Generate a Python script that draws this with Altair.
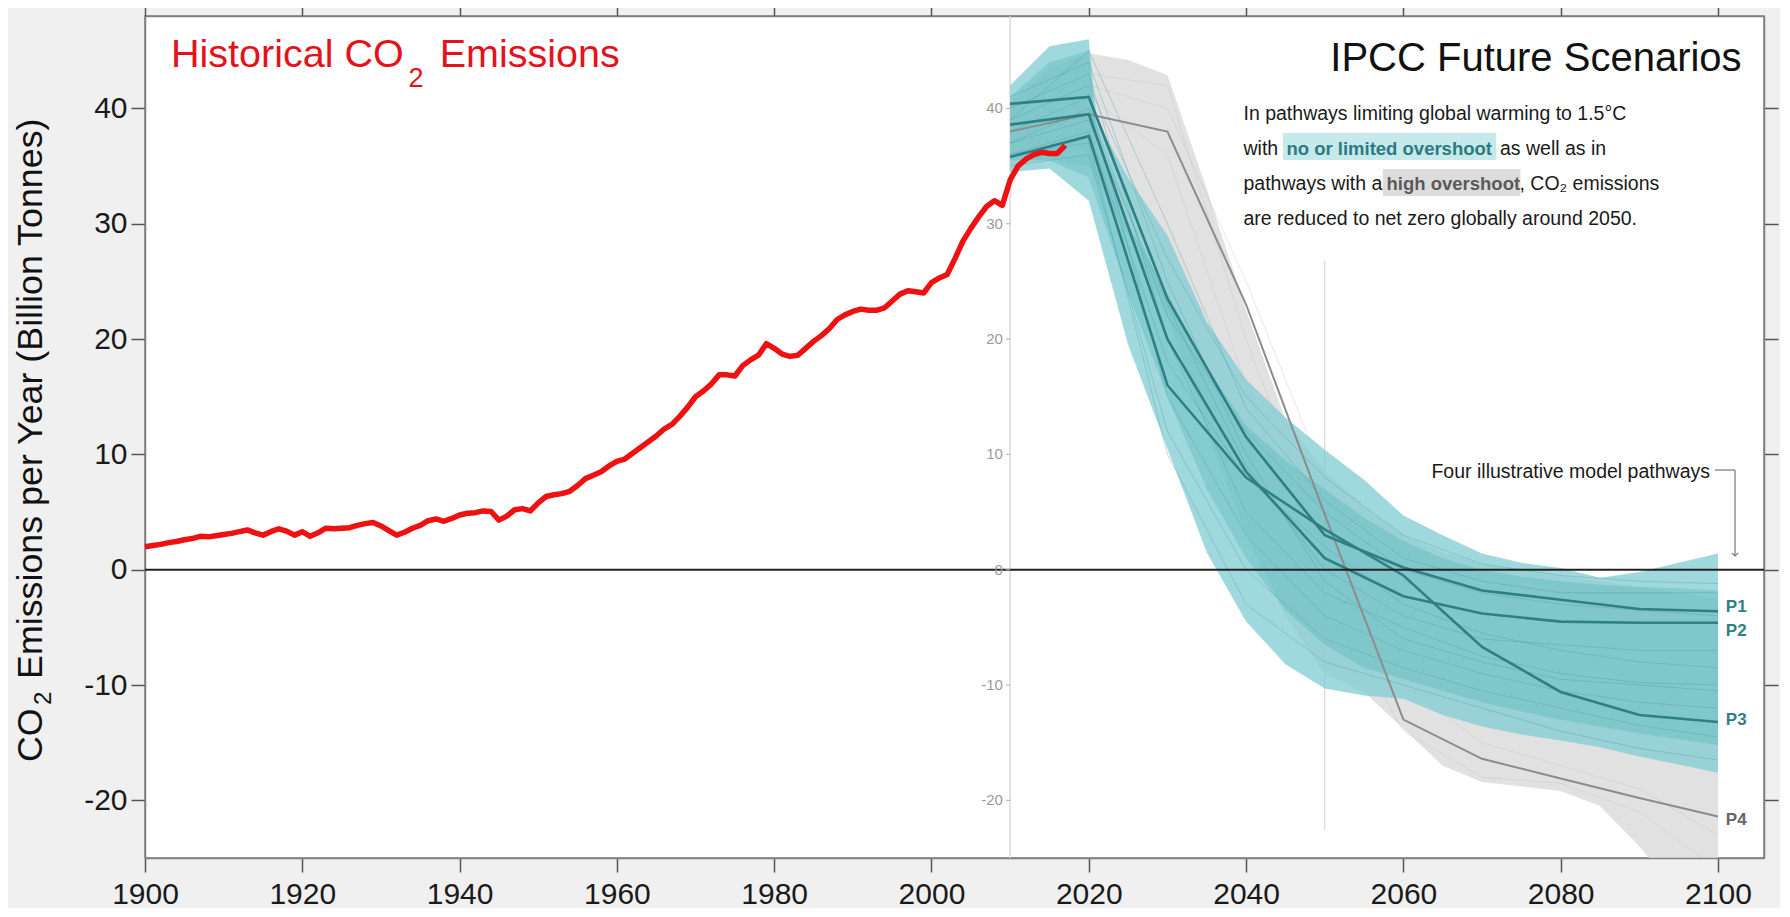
import altair as alt
import pandas as pd

# ---------------- data ----------------
hist_years = list(range(1900, 2018))
hist_values = [
    2.0, 2.1, 2.2, 2.35, 2.45, 2.6, 2.7, 2.9, 2.85, 2.95,
    3.05, 3.15, 3.3, 3.45, 3.2, 3.0, 3.3, 3.55, 3.35, 3.0,
    3.3, 2.9, 3.2, 3.6, 3.55, 3.6, 3.65, 3.85, 4.0, 4.1,
    3.8, 3.4, 3.0, 3.25, 3.6, 3.85, 4.25, 4.4, 4.2, 4.45,
    4.75, 4.9, 4.95, 5.1, 5.05, 4.3, 4.65, 5.2, 5.3, 5.1,
    5.8, 6.35, 6.5, 6.6, 6.8, 7.3, 7.9, 8.2, 8.5, 9.0,
    9.4, 9.6, 10.1, 10.6, 11.1, 11.6, 12.2, 12.6, 13.3, 14.1,
    15.0, 15.5, 16.1, 16.9, 16.9, 16.8, 17.7, 18.2, 18.6, 19.6,
    19.2, 18.7, 18.5, 18.6, 19.2, 19.8, 20.3, 20.9, 21.7, 22.1,
    22.4, 22.6, 22.5, 22.5, 22.7, 23.3, 23.9, 24.2, 24.1, 24.0,
    24.9, 25.3, 25.6, 27.0, 28.5, 29.6, 30.6, 31.5, 32.0, 31.6,
    33.8, 35.0, 35.6, 36.0, 36.2, 36.1, 36.1, 36.8,
]

# high-overshoot range (grey)
gray_years = [2010, 2015, 2020, 2025, 2030, 2035, 2040, 2045, 2050, 2055,
              2060, 2065, 2070, 2075, 2080, 2085, 2090, 2095, 2100]
gray_hi = [40.5, 43.5, 44.8, 44.2, 42.9, 33.0, 22.5, 13.0, 8.5, 5.5,
           3.0, 1.5, 0.5, 0.0, -0.5, -1.0, -1.5, -2.0, -2.5]
gray_lo = [35.0, 35.5, 35.0, 29.0, 22.0, 12.0, 3.0, -4.0, -9.0, -10.6,
           -13.8, -17.0, -18.4, -18.8, -19.2, -20.5, -24.0, -28.0, -31.0]

# no / limited overshoot range (teal)
teal_years = [2010, 2015, 2020, 2021, 2025, 2030, 2035, 2040, 2045, 2050,
              2055, 2060, 2065, 2070, 2075, 2080, 2085, 2090, 2095, 2100]
teal_hi = [42.0, 45.4, 46.0, 39.0, 34.0, 29.0, 21.5, 16.5, 13.2, 10.4,
           7.8, 4.7, 3.0, 1.4, 0.6, 0.15, -0.7, -0.2, 0.6, 1.4]
teal_lo = [34.5, 34.8, 32.0, 29.5, 19.5, 10.5, 1.5, -4.5, -8.2, -10.3,
           -10.9, -11.2, -12.6, -13.6, -14.3, -14.8, -15.4, -16.2, -16.9, -17.6]
core_hi = [41.0, 44.0, 45.0, 37.0, 30.0, 24.0, 17.5, 12.5, 9.5, 7.0,
           4.5, 2.5, 1.0, 0.0, -0.6, -1.0, -1.3, -1.5, -1.6, -1.8]
core_lo = [35.5, 35.5, 34.0, 32.0, 24.0, 15.0, 7.0, 1.0, -3.5, -6.5,
           -8.5, -9.5, -10.5, -11.5, -12.3, -13.0, -13.6, -14.2, -14.7, -15.2]

# individual scenario traces (decadal)
scen_years = [2010, 2020, 2030, 2040, 2050, 2060, 2070, 2080, 2090, 2100]
teal_traces = {
    "t1": [39, 42, 27, 15, 8, 3, 0.5, -0.5, -1, -1.2],
    "t2": [37, 40, 22, 12, 5, 0, -2, -3, -3.5, -4],
    "t3": [36, 38, 18, 8, 2, -3, -5.5, -7, -8, -8.5],
    "t4": [41, 44, 25, 10, -1, -6, -8, -9.5, -10, -10.5],
    "t5": [38, 41, 15, 3, -4, -7, -9, -10.5, -11.5, -12],
    "t6": [35, 36, 12, 0, -6, -8.5, -10.5, -12, -13.5, -14.5],
    "t7": [40, 43, 20, 5, -2, -5, -7.5, -9, -9.8, -10],
    "t8": [36, 37, 10, -3, -8, -10, -12, -14, -15.5, -16.5],
    "t9": [39, 45, 30, 14, 6, 1, -1, -2, -2, -2],
    "t10": [37, 39, 23, 9, 0, -4, -6, -6.5, -7, -7],
}
gray_traces = {
    "g1": [39, 43, 42, 20, 2, -10, -15, -17, -19, -23],
    "g2": [38, 42, 40, 25, 8, -8, -12, -14, -15.5, -17],
    "g3": [37, 41, 36, 16, -2, -14, -18, -18.5, -21, -26],
}

# four illustrative pathways
path_years = [2010, 2020, 2030, 2040, 2050, 2060, 2070, 2080, 2090, 2100]
P1 = [40.4, 41.0, 23.5, 11.5, 3.0, 0.2, -1.8, -2.6, -3.4, -3.6]
P2 = [38.6, 39.5, 20.0, 8.5, 1.0, -2.3, -3.8, -4.5, -4.6, -4.6]
P3 = [35.8, 37.6, 16.0, 8.0, 3.5, -0.5, -6.7, -10.6, -12.6, -13.2]
P4 = [38.0, 39.5, 38.0, 23.0, 4.8, -13.0, -16.4, -18.1, -19.8, -21.4]
p_labels = ["P1", "P2", "P3", "P4"]
p_label_y = [-3.2, -5.3, -13.0, -21.7]

x_ticks = [1900, 1920, 1940, 1960, 1980, 2000, 2020, 2040, 2060, 2080, 2100]
y_ticks = [-20, -10, 0, 10, 20, 30, 40]
inset_ticks = [-20, -10, 0, 10, 20, 30, 40]

# ---------------- scales ----------------
XS = alt.Scale(domain=[1900, 2105.85], nice=False, zero=False)
YS = alt.Scale(domain=[-25.0, 48.02], nice=False, zero=False)


def X(f="year"):
    return alt.X(f"{f}:Q", scale=XS, axis=None)


def Y(f="v"):
    return alt.Y(f"{f}:Q", scale=YS, axis=None)


hist_df = pd.DataFrame({"year": hist_years, "v": hist_values})
gray_df = pd.DataFrame({"year": gray_years, "hi": gray_hi, "lo": gray_lo})
teal_df = pd.DataFrame({"year": teal_years, "hi": teal_hi, "lo": teal_lo,
                        "chi": core_hi, "clo": core_lo})


def traces_df(d):
    rows = []
    for k, vals in d.items():
        for yr, v in zip(scen_years, vals):
            rows.append({"id": k, "year": yr, "v": v})
    return pd.DataFrame(rows)


paths_rows = []
for name, vals in zip(p_labels, [P1, P2, P3, P4]):
    for yr, v in zip(path_years, vals):
        paths_rows.append({"id": name, "year": yr, "v": v})
paths_df = pd.DataFrame(paths_rows)

layers = []

# frame axes (top / right, no labels)
frame = alt.Chart(hist_df).mark_point(opacity=0).encode(
    x=alt.X("year:Q", scale=XS, axis=alt.Axis(orient="top", values=x_ticks, labels=False,
                                              title=None, grid=False)),
    y=alt.Y("v:Q", scale=YS, axis=alt.Axis(orient="right", values=y_ticks, labels=False,
                                           title=None, grid=False)),
)
layers.append(frame)

# 2010 inset axis line
layers.append(alt.Chart(pd.DataFrame({"year": [2010], "a": [48.0], "b": [-25.0]})).mark_rule(
    color="#dadada", strokeWidth=1.5).encode(x=X(), y=Y("a"), y2="b:Q"))

# grey band + traces
layers.append(alt.Chart(gray_df).mark_area(color="#d9d9d9", opacity=0.8, clip=True).encode(
    x=X(), y=Y("hi"), y2="lo:Q"))
layers.append(alt.Chart(traces_df(gray_traces)).mark_line(
    color="#c2c2c2", strokeWidth=0.8, opacity=0.5, clip=True).encode(x=X(), y=Y(), detail="id:N"))

# 2050 marker line
layers.append(alt.Chart(pd.DataFrame({"year": [2050], "a": [26.8], "b": [-22.6]})).mark_rule(
    color="#d2d2d2", strokeWidth=1).encode(x=X(), y=Y("a"), y2="b:Q"))

# teal bands
layers.append(alt.Chart(teal_df).mark_area(color="#80ccd1", opacity=0.75).encode(
    x=X(), y=Y("hi"), y2="lo:Q"))
layers.append(alt.Chart(teal_df).mark_area(color="#4fb0b6", opacity=0.32).encode(
    x=X(), y=Y("chi"), y2="clo:Q"))
layers.append(alt.Chart(traces_df(teal_traces)).mark_line(
    color="#3f969c", strokeWidth=0.8, opacity=0.4).encode(x=X(), y=Y(), detail="id:N"))

# illustrative pathways
layers.append(alt.Chart(paths_df[paths_df.id == "P4"]).mark_line(
    color="#8c8c8c", strokeWidth=2).encode(x=X(), y=Y()))
layers.append(alt.Chart(paths_df[paths_df.id != "P4"]).mark_line(
    color="#2f7f83", strokeWidth=2.6).encode(x=X(), y=Y(), detail="id:N"))

# zero line
layers.append(alt.Chart(pd.DataFrame({"year": [1900], "b": [2105.85], "v": [0]})).mark_rule(
    color="#222222", strokeWidth=2).encode(x=X(), x2="b:Q", y=Y()))

# inset axis ticks and labels
inset_df = pd.DataFrame({"year": [2009.45] * len(inset_ticks), "b": [2010] * len(inset_ticks),
                         "v": inset_ticks, "t": [str(t) for t in inset_ticks]})
layers.append(alt.Chart(inset_df).mark_rule(color="#b0b0b0", strokeWidth=1).encode(
    x=X(), x2="b:Q", y=Y()))
layers.append(alt.Chart(inset_df).mark_text(
    align="right", baseline="middle", dx=-3, font="Liberation Sans",
    fontSize=15, color="#9a9a9a").encode(x=X(), y=Y(), text="t:N"))

# historical line (carries the main axes)
layers.append(alt.Chart(hist_df).mark_line(color="#ee1111", strokeWidth=5.5, strokeJoin="round").encode(
    x=alt.X("year:Q", scale=XS, axis=alt.Axis(orient="bottom", values=x_ticks, format="d",
                                              title=None, grid=False, labelFlush=False,
                                              labelPadding=7)),
    y=alt.Y("v:Q", scale=YS, axis=alt.Axis(orient="left", values=y_ticks, title=None, grid=False,
                                           labelExpr="toString(datum.value)")),
))

# P labels
plab_df = pd.DataFrame({"year": [2101.0] * 4, "v": p_label_y, "t": p_labels,
                        "c": ["#2f7f83", "#2f7f83", "#2f7f83", "#666666"]})
layers.append(alt.Chart(plab_df).mark_text(
    align="left", baseline="middle", font="Liberation Sans",
    fontSize=17, fontWeight="bold").encode(x=X(), y=Y(), text="t:N",
                                            color=alt.Color("c:N", scale=None, legend=None)))


# ---------------- annotations ----------------
def label(txt, px, py, size, color="#111111", align="left", baseline="alphabetic",
          font="Liberation Sans", weight="normal", angle=0):
    return alt.Chart(pd.DataFrame({"t": [txt]})).mark_text(
        align=align, baseline=baseline, font=font, fontSize=size, color=color,
        fontWeight=weight, angle=angle).encode(x=alt.value(px), y=alt.value(py), text="t:N")


RED = "#e3121b"
layers += [
    label("Historical CO", 26, 50.7, 39.5, RED),
    label("2", 263.5, 71, 27, RED),
    label("Emissions", 294.7, 50.7, 39.5, RED),
    label("IPCC Future Scenarios", 1596.6, 54.7, 40, "#111111", align="right"),
]

# y-axis title (rotated, with subscript)
layers += [
    label("CO", -103, 746, 35.8, "#111111", angle=270),
    label("2", -94, 689, 24, "#111111", angle=270),
    label("Emissions per Year (Billion Tonnes)", -103, 663, 35.8, "#111111", angle=270),
]

# paragraph
PF = "Liberation Sans"
PS = 19.5
BS = 18.5
boxes = pd.DataFrame({"x": [1138, 1237.8], "x2": [1351.3, 1375.4], "y": [117, 153],
                      "y2": [144, 180], "c": ["#c6e9eb", "#dcdcdc"]})
for _, r in boxes.iterrows():
    layers.append(alt.Chart(pd.DataFrame({"a": [0]})).mark_rect(color=r["c"]).encode(
        x=alt.value(r["x"]), x2=alt.value(r["x2"]), y=alt.value(r["y"]), y2=alt.value(r["y2"])))
layers += [
    label("In pathways limiting global warming to 1.5°C", 1098.5, 104, PS, "#1a1a1a", font=PF),
    label("with", 1098.5, 139, PS, "#1a1a1a", font=PF),
    label("no or limited overshoot", 1141.4, 139, BS, "#2b7b80", font=PF, weight="bold"),
    label("as well as in", 1355, 139, PS, "#1a1a1a", font=PF),
    label("pathways with a", 1098.5, 174, PS, "#1a1a1a", font=PF),
    label("high overshoot", 1241.5, 174, BS, "#5a5a5a", font=PF, weight="bold"),
    label(", CO₂ emissions", 1374.5, 174, PS, "#1a1a1a", font=PF),
    label("are reduced to net zero globally around 2050.", 1098.5, 209, PS, "#1a1a1a", font=PF),
    label("Four illustrative model pathways", 1565, 462.3, PS, "#1a1a1a", align="right", font=PF),
]
# bracket arrow
layers.append(alt.Chart(pd.DataFrame({"a": [0]})).mark_rule(color="#777777", strokeWidth=1.2).encode(
    x=alt.value(1570), x2=alt.value(1590), y=alt.value(454)))
layers.append(alt.Chart(pd.DataFrame({"a": [0]})).mark_rule(color="#777777", strokeWidth=1.2).encode(
    x=alt.value(1590), y=alt.value(454), y2=alt.value(540)))
layers.append(alt.Chart(pd.DataFrame({"a": [0]})).mark_point(
    shape="M -1 -1 L 0 0 L 1 -1", filled=False, color="#777777", size=40, strokeWidth=1.2,
    opacity=1).encode(x=alt.value(1590), y=alt.value(540)))

chart = alt.layer(*layers).resolve_axis(x="independent", y="independent").properties(
    width=1619, height=842,
    autosize=alt.AutoSizeParams(type="none"),
    padding={"left": 137, "top": 8, "right": 16, "bottom": 50},
    background="#f0f0f0",
).configure_view(fill="white", stroke="#7f7f7f", strokeWidth=1.5).configure_axis(
    domainColor="#7f7f7f", domainWidth=1.5, tickColor="#555555", tickWidth=1.5, tickSize=14,
    labelFont="Liberation Sans", labelFontSize=30, labelColor="#1a1a1a", labelPadding=4,
)

chart.save("out.html", embed_options={"renderer": "svg", "actions": False})
